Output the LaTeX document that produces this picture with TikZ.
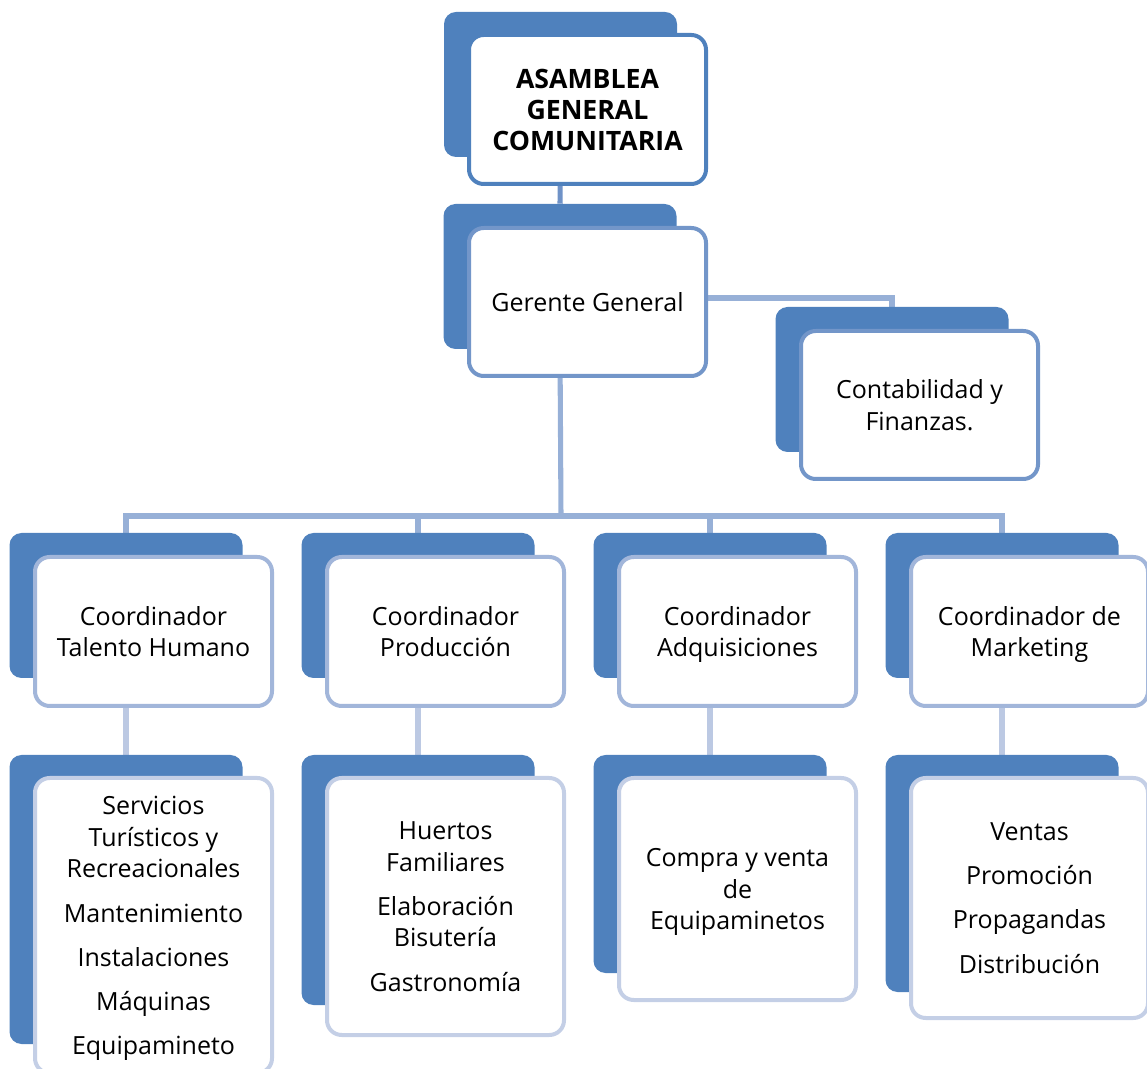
\documentclass[tikz,border=0pt]{standalone}
\usepackage{fontspec}
\setmainfont{Open Sans}
\usetikzlibrary{backgrounds}

\definecolor{backblue}{HTML}{4F81BD}
\definecolor{edgeA}{HTML}{4F81BD}
\definecolor{edgeB}{HTML}{7396C9}
\definecolor{edgeC}{HTML}{A2B6DA}
\definecolor{edgeD}{HTML}{C4CFE6}
\definecolor{connA}{HTML}{6F92C7}
\definecolor{connB}{HTML}{97B0D7}
\definecolor{connC}{HTML}{BCC9E3}

\tikzset{
  backbox/.style={fill=backblue, rounded corners=9pt, inner sep=0pt,
    minimum width=174.75pt, minimum height=#1},
  frontbox/.style={draw=edgeB, fill=white, line width=3pt, rounded corners=11pt,
    inner sep=0pt, minimum width=177.75pt, minimum height=#1, align=center,
    text depth=0pt, font=\fontsize{18.75}{23.6}\selectfont},
  conn/.style={draw=#1, line width=3.8pt},
}

\begin{document}
\begin{tikzpicture}[x=0.75pt, y=-0.75pt]
    \useasboundingbox (0,0) rectangle (1147,1069);

    % top levels
    \node[backbox=108.75pt] (asam-b) at (560.5,84.5) {};
    \node[frontbox=111.75pt, draw=edgeA, font=\fontsize{20}{23.3}\selectfont\bfseries] (asam) at (587.5,109.5)
        {ASAMBLEA\\GENERAL\\COMUNITARIA};

    \node[backbox=108.75pt] (ger-b) at (560,276.5) {};
    \node[frontbox=111pt] (ger) at (587.5,302) {Gerente General};

    \node[backbox=108.75pt] (cont-b) at (892,379.5) {};
    \node[frontbox=111pt] (cont) at (919.5,405) {Contabilidad y\\Finanzas.};

    % coordinators
    \node[backbox=108.75pt] (tal-b) at (126,605.5) {};
    \node[frontbox=111.75pt, draw=edgeC] (tal) at (153.5,631.5) {Coordinador\\Talento Humano};

    \node[backbox=108.75pt] (prod-b) at (418,605.5) {};
    \node[frontbox=111.75pt, draw=edgeC] (prod) at (445.5,631.5) {Coordinador\\Producción};

    \node[backbox=108.75pt] (adq-b) at (710,605.5) {};
    \node[frontbox=111.75pt, draw=edgeC] (adq) at (737.5,631.5) {Coordinador\\Adquisiciones};

    \node[backbox=108.75pt] (mkt-b) at (1002,605.5) {};
    \node[frontbox=111.75pt, draw=edgeC] (mkt) at (1029.5,631.5) {Coordinador de\\Marketing};

    % tasks
    \node[backbox=216.75pt] (tal-sub-b) at (126,899.5) {};
    \node[frontbox=221.25pt, draw=edgeD] (tal-sub) at (153.5,925.5)
        {Servicios\\Turísticos y\\Recreacionales\\[9.5pt]Mantenimiento\\[9.5pt]Instalaciones\\[9.5pt]Máquinas\\[9.5pt]Equipamineto};

    \node[backbox=187.5pt] (prod-sub-b) at (418,880) {};
    \node[frontbox=192.75pt, draw=edgeD] (prod-sub) at (445.5,906.5)
        {Huertos\\Familiares\\[9.5pt]Elaboración\\Bisutería\\[9.5pt]Gastronomía};

    \node[backbox=163.5pt] (adq-sub-b) at (710,864) {};
    \node[frontbox=166.5pt, draw=edgeD] (adq-sub) at (737.5,889)
        {Compra y venta\\de\\Equipaminetos};

    \node[backbox=177.75pt] (mkt-sub-b) at (1002,873.5) {};
    \node[frontbox=180pt, draw=edgeD] (mkt-sub) at (1029.5,898)
        {Ventas\\[9.5pt]Promoción\\[9.5pt]Propagandas\\[9.5pt]Distribución};

    \coordinate (bus) at (561,516);

    % connectors behind the boxes
    \begin{scope}[on background layer]
        \draw[conn=connA] (asam-b.south) -- (ger-b.north);
        \draw[conn=connB] ([yshift=3pt]ger.east) -| (cont-b.north);
        \draw[conn=connB] (ger-b.south) -- (bus);
        \foreach \n in {tal,prod,adq,mkt} {
            \draw[conn=connB] (bus) -| (\n-b.north);
            \draw[conn=connC] (\n-b.south) -- (\n-sub-b.north);
        }
    \end{scope}
\end{tikzpicture}
\end{document}
